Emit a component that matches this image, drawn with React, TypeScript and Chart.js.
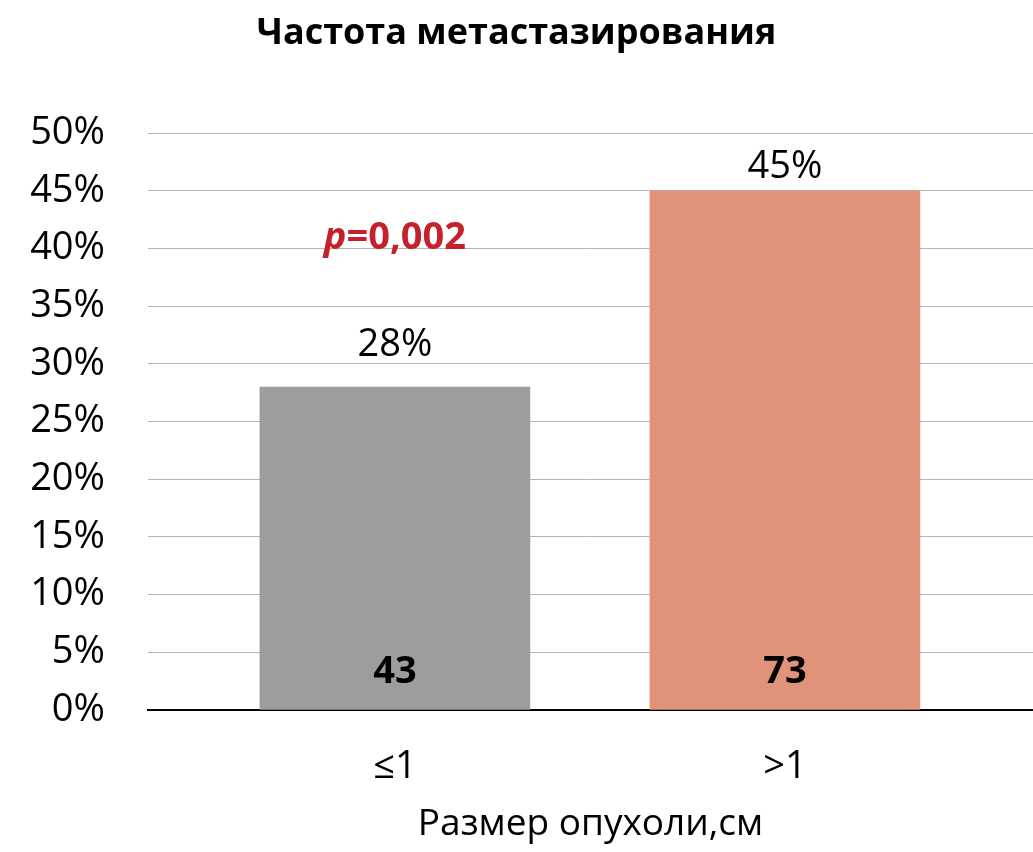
import { useEffect, useRef } from 'react';
import { Chart, registerables } from 'chart.js';

Chart.register(...registerables);

const FONT = "'Open Sans', sans-serif";

const chartTitle = 'Частота метастазирования';
const axisTitle = 'Размер опухоли,см';
const categories = ['≤1', '>1'];
const percentValues = [28, 45];
const patientCounts = [43, 73];
const yTicks = [0, 5, 10, 15, 20, 25, 30, 35, 40, 45, 50];
const pLabel = ['p', '=0,002'];
const pLevel = 40;

const barColors = ['#9d9d9c', '#e0937a'];

// labels above bars, counts at bar bottoms, p-value note
const labelsPlugin = {
  id: 'barLabels',
  afterDatasetsDraw(chart: any) {
    const { ctx, chartArea, scales } = chart;
    const meta = chart.getDatasetMeta(0);
    ctx.save();
    ctx.textAlign = 'center';
    ctx.textBaseline = 'alphabetic';
    meta.data.forEach((bar: any, i: number) => {
      ctx.fillStyle = '#000';
      ctx.font = `38px ${FONT}`;
      const y = Math.max(bar.y - 31, chartArea.top + 45);
      ctx.fillText(`${percentValues[i]}%`, bar.x, y);
      ctx.font = `bold 38px ${FONT}`;
      ctx.fillText(String(patientCounts[i]), bar.x, bar.base - 27);
    });

    // p=0,002
    const px = scales.x.getPixelForValue(0);
    const py = scales.y.getPixelForValue(pLevel);
    ctx.fillStyle = '#c8202a';
    ctx.textAlign = 'left';
    ctx.font = `italic bold 38px ${FONT}`;
    const w1 = ctx.measureText(pLabel[0]).width;
    ctx.font = `bold 38px ${FONT}`;
    const w2 = ctx.measureText(pLabel[1]).width;
    const start = px - (w1 + w2) / 2;
    ctx.font = `italic bold 38px ${FONT}`;
    ctx.fillText(pLabel[0], start, py);
    ctx.font = `bold 38px ${FONT}`;
    ctx.fillText(pLabel[1], start + w1, py);
    ctx.restore();
  },
};

export default function App() {
  const canvasRef = useRef<HTMLCanvasElement>(null);

  useEffect(() => {
    document.body.style.margin = '0';
    if (!canvasRef.current) return;
    const chart = new Chart(canvasRef.current, {
      type: 'bar',
      data: {
        datasets: [
          {
            data: percentValues.map((v, i) => ({ x: i, y: v })),
            backgroundColor: barColors,
            barThickness: 270,
          },
        ],
      },
      options: {
        responsive: true,
        maintainAspectRatio: false,
        animation: false,
        layout: { padding: 0 },
        plugins: {
          legend: { display: false },
          tooltip: { enabled: false },
          title: {
            display: true,
            text: chartTitle,
            color: '#000',
            font: { family: FONT, size: 36, weight: 'bold' },
            padding: { top: 12, bottom: 78 },
          },
        },
        scales: {
          x: {
            type: 'linear',
            offset: false,
            min: -0.633,
            max: 1.636,
            grid: { display: false, offset: false },
            border: { display: true, color: '#000', width: 2 },
            afterBuildTicks: (scale: any) => {
              scale.ticks = categories.map((_, i) => ({ value: i }));
            },
            afterFit: (scale: any) => {
              scale.height = 142;
            },
            ticks: {
              autoSkip: false,
              maxRotation: 0,
              padding: 26,
              color: '#000',
              font: { family: FONT, size: 38 },
              callback: (v: any) => categories[v],
            },
            title: {
              display: true,
              text: axisTitle,
              color: '#000',
              font: { family: FONT, size: 37 },
              padding: { top: 0, bottom: 5 },
            },
          },
          y: {
            min: 0,
            max: 50,
            afterBuildTicks: (scale: any) => {
              scale.ticks = yTicks.map((v) => ({ value: v }));
            },
            afterFit: (scale: any) => {
              scale.width = 148;
            },
            grid: { color: '#b4b4b4', lineWidth: 1, drawTicks: false },
            border: { display: false },
            ticks: {
              padding: 43,
              color: '#000',
              font: { family: FONT, size: 38 },
              callback: (v: any) => `${v}%`,
            },
          },
        },
      },
      plugins: [labelsPlugin],
    });
    return () => chart.destroy();
  }, []);

  return (
    <div style={{ width: 1033, height: 852, position: 'relative', background: '#fff' }}>
      <canvas ref={canvasRef} />
    </div>
  );
}
